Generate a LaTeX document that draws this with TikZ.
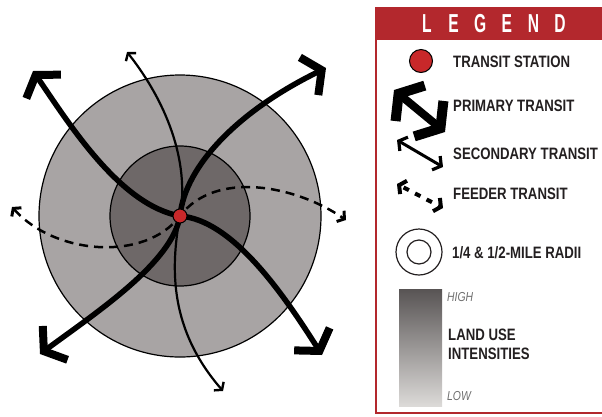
\documentclass[tikz,border=0pt]{standalone}
\usepackage{fontspec}
\setmainfont{Liberation Sans}[FakeStretch=0.8]
\newfontfamily\headfont{Liberation Sans}[FakeStretch=0.6]
\usetikzlibrary{arrows.meta}

\definecolor{legendred}{HTML}{B3282D}
\definecolor{stationred}{HTML}{C8282A}
\definecolor{ringlight}{HTML}{A8A4A4}
\definecolor{ringdark}{HTML}{6E6868}
\definecolor{barhigh}{HTML}{585454}
\definecolor{barlow}{HTML}{DCDAD8}
\definecolor{notegray}{HTML}{6E6E6E}
\definecolor{inkdark}{HTML}{231F20}

\tikzset{
  station/.style={circle, draw=black, line width=1pt, fill=stationred, minimum size=14pt},
  primary/.style={line width=5.5pt, arrows={Straight Barb[length=14pt,width=42pt,line width=8pt]-Straight Barb[length=14pt,width=42pt,line width=8pt]}},
  secondary/.style={line width=2.2pt, arrows={Straight Barb[length=5pt,width=13pt,line width=2.4pt]-Straight Barb[length=5pt,width=13pt,line width=2.4pt]}},
  feeder/.style={line width=2.5pt, dash pattern=on 9pt off 6pt, arrows={Straight Barb[length=5pt,width=13pt,line width=3pt]-Straight Barb[length=5pt,width=13pt,line width=3pt]}},
  keyprimary/.style={line width=8pt, arrows={Straight Barb[length=15pt,width=46pt,line width=10pt]-Straight Barb[length=15pt,width=46pt,line width=10pt]}},
  keysecondary/.style={line width=3pt, arrows={Straight Barb[length=6pt,width=16pt,line width=3.2pt]-Straight Barb[length=6pt,width=16pt,line width=3.2pt]}},
  keyfeeder/.style={line width=4pt, dash pattern=on 6pt off 7pt, dash phase=-3pt, arrows={Straight Barb[length=5pt,width=15pt,line width=4pt]-Straight Barb[length=5pt,width=15pt,line width=4pt]}},
  keytext/.style={anchor=west, text=inkdark, font=\bfseries\fontsize{16.5}{16.5}\selectfont},
  keynote/.style={anchor=west, text=notegray, font=\itshape\fontsize{13}{13}\selectfont},
  headletter/.style={text=white, font=\headfont\bfseries\fontsize{26}{26}\selectfont},
}

\begin{document}
\begin{tikzpicture}[x=1pt, y=-1pt, every node/.style={inner sep=0pt}]
\useasboundingbox (0,0) rectangle (602,416);

% map
\coordinate (hub) at (180,216);
\coordinate (pNW) at (33,71);
\coordinate (pSE) at (322,355);
\coordinate (pSW) at (40,354);
\coordinate (pNE) at (326,68);
\coordinate (sN) at (127,52);
\coordinate (sS) at (223,391);
\coordinate (fW) at (12,207);
\coordinate (fE) at (346,220);

\filldraw[fill=ringlight, line width=1.2pt] (hub) circle (141);
\filldraw[fill=ringdark, line width=1.2pt] (hub) circle (70);

\draw[feeder] (fW) .. controls (55,255) and (145,262) .. (hub) .. controls (215,170) and (295,185) .. (fE);
\draw[secondary] (sN) .. controls (165,100) and (190,160) .. (hub) .. controls (170,270) and (170,330) .. (sS);
\draw[primary] (pNW) .. controls (70,125) and (120,205) .. (hub) .. controls (232,220) and (282,292) .. (pSE);
\draw[primary] (pSW) .. controls (100,310) and (172,262) .. (hub) .. controls (185,165) and (240,110) .. (pNE);

\node[station] (st) at (hub) {};

% legend
\draw[legendred, line width=2.5pt] (376,8) rectangle (606,413);
\fill[legendred] (376,7) rectangle (606,40);
\foreach \ch [count=\i from 0] in {L,E,G,E,N,D}
  \node[headletter] (head\i) at (427+26.6*\i,24) {\ch};

\node[station, minimum size=23pt] (keystation) at (421,61) {};
\node[keytext] (txtstation) at (453,62) {TRANSIT STATION};

\coordinate (kp1) at (394,90);
\coordinate (kp2) at (445,132);
\draw[keyprimary] (kp1) -- (kp2);
\node[keytext] (txtprimary) at (453,106) {PRIMARY TRANSIT};

\coordinate (ks1) at (397,140);
\coordinate (ks2) at (443,167);
\draw[keysecondary] (ks1) -- (ks2);
\node[keytext] (txtsecondary) at (453,154) {SECONDARY TRANSIT};

\coordinate (kf1) at (397,184);
\coordinate (kf2) at (443,208);
\draw[keyfeeder] (kf1) -- (kf2);
\node[keytext] (txtfeeder) at (453,194) {FEEDER TRANSIT};

\node[circle, draw=inkdark, line width=1.2pt, minimum size=46pt] (keyhalf) at (419,252) {};
\node[circle, draw=inkdark, line width=1.2pt, minimum size=24pt] (keyquarter) at (keyhalf) {};
\node[keytext] (txtradii) at (452,253) {1/4 \& 1/2-MILE RADII};

\shade[top color=barhigh, bottom color=barlow] (399,289) rectangle (442,406);
\node[keynote] (txthigh) at (447,297) {HIGH};
\node[keytext, align=left, font=\bfseries\fontsize{16.5}{19}\selectfont] (txtlanduse) at (448,344) {LAND USE\\INTENSITIES};
\node[keynote] (txtlow) at (447,396) {LOW};
\end{tikzpicture}
\end{document}
